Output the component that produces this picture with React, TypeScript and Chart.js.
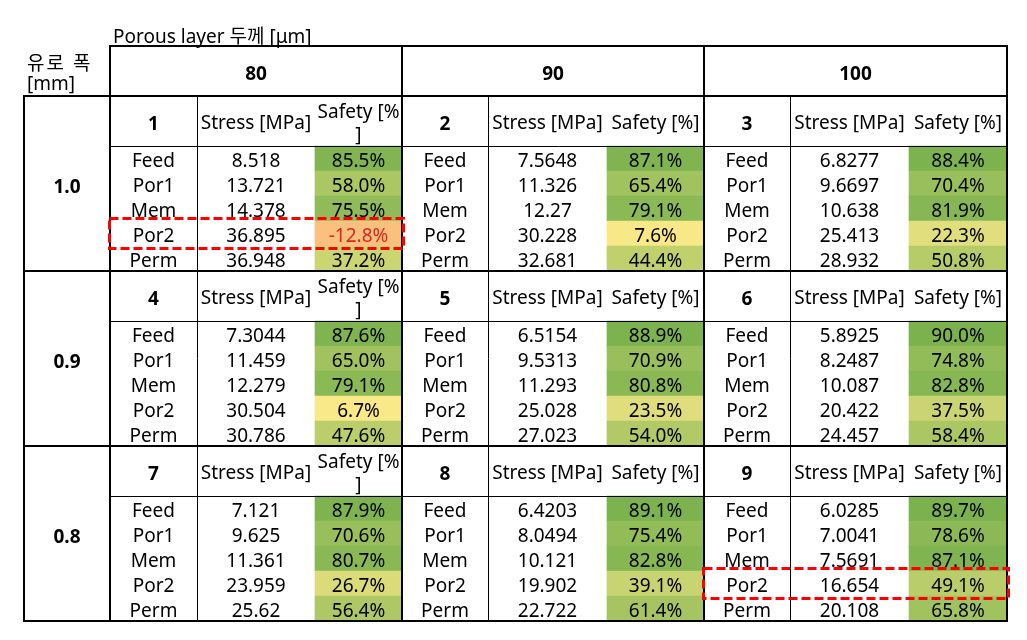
import React, { useEffect, useRef } from 'react';
import { Chart, registerables } from 'chart.js';

Chart.register(...registerables);

// ---------- data ----------
const titleText = 'Porous layer 두께 [μm]';
const rowHeaderLines = ['유로 폭', '[mm]'];
const thicknessLabels = ['80', '90', '100'];
const widthLabels = ['1.0', '0.9', '0.8'];
const locationLabels = ['Feed', 'Por1', 'Mem', 'Por2', 'Perm'];
const stressHeader = 'Stress [MPa]';
const safetyHeader = 'Safety [%]';

const stressCase1 = [8.518, 13.721, 14.378, 36.895, 36.948];
const stressCase2 = [7.5648, 11.326, 12.27, 30.228, 32.681];
const stressCase3 = [6.8277, 9.6697, 10.638, 25.413, 28.932];
const stressCase4 = [7.3044, 11.459, 12.279, 30.504, 30.786];
const stressCase5 = [6.5154, 9.5313, 11.293, 25.028, 27.023];
const stressCase6 = [5.8925, 8.2487, 10.087, 20.422, 24.457];
const stressCase7 = [7.121, 9.625, 11.361, 23.959, 25.62];
const stressCase8 = [6.4203, 8.0494, 10.121, 19.902, 22.722];
const stressCase9 = [6.0285, 7.0041, 7.5691, 16.654, 20.108];

const safetyCase1 = [85.5, 58.0, 75.5, -12.8, 37.2];
const safetyCase2 = [87.1, 65.4, 79.1, 7.6, 44.4];
const safetyCase3 = [88.4, 70.4, 81.9, 22.3, 50.8];
const safetyCase4 = [87.6, 65.0, 79.1, 6.7, 47.6];
const safetyCase5 = [88.9, 70.9, 80.8, 23.5, 54.0];
const safetyCase6 = [90.0, 74.8, 82.8, 37.5, 58.4];
const safetyCase7 = [87.9, 70.6, 80.7, 26.7, 56.4];
const safetyCase8 = [89.1, 75.4, 82.8, 39.1, 61.4];
const safetyCase9 = [89.7, 78.6, 87.1, 49.1, 65.8];

const stressByCase = [stressCase1, stressCase2, stressCase3, stressCase4, stressCase5, stressCase6, stressCase7, stressCase8, stressCase9];
const safetyByCase = [safetyCase1, safetyCase2, safetyCase3, safetyCase4, safetyCase5, safetyCase6, safetyCase7, safetyCase8, safetyCase9];

const highlightCases = [1, 9];
const highlightLocation = 'Por2';

// ---------- layout / style ----------
const COL_WIDTHS = [86, 87, 118, 87, 86, 119, 97, 86, 119, 98];
const EDGES = COL_WIDTHS.reduce((acc: number[], w) => { acc.push(acc[acc.length - 1] + w); return acc; }, [0]);
const TOTAL_W = EDGES[EDGES.length - 1];
const SLOTS = 23; // header 2 + 3 blocks * (2 sub-header + 5 data)
const FONT_FAMILY = '"Noto Sans", "Noto Sans CJK KR", sans-serif';
const FONT = `19px ${FONT_FAMILY}`;
const FONT_BOLD = `bold 19px ${FONT_FAMILY}`;
const COLOR_STOPS: [number, number[]][] = [
  [-12.8, [251, 191, 126]],
  [6, [250, 233, 136]],
  [90, [123, 178, 78]],
];

function safetyColor(v: number): string {
  let a = COLOR_STOPS[0], b = COLOR_STOPS[1];
  if (v >= COLOR_STOPS[1][0]) { a = COLOR_STOPS[1]; b = COLOR_STOPS[2]; }
  let t = (v - a[0]) / (b[0] - a[0]);
  t = Math.max(0, Math.min(1, t));
  const c = a[1].map((ch, i) => Math.round(ch + (b[1][i] - ch) * t));
  return `rgb(${c[0]},${c[1]},${c[2]})`;
}

const blockStart = (b: number) => 2 + 7 * b;

// safety cells as floating bars
const cellData: { x: number[]; y: number }[] = [];
const cellColors: string[] = [];
safetyByCase.forEach((vals, ci) => {
  const b = Math.floor(ci / 3);
  const g = ci % 3;
  vals.forEach((v, r) => {
    cellData.push({ x: [EDGES[3 + 3 * g], EDGES[4 + 3 * g]], y: blockStart(b) + 2 + r + 0.5 });
    cellColors.push(safetyColor(v));
  });
});

const tablePlugin = {
  id: 'tablePlugin',
  afterDatasetsDraw(chart: any) {
    const { ctx } = chart;
    const xs = chart.scales.x;
    const ys = chart.scales.y;
    const X = (v: number) => xs.getPixelForValue(v);
    const Y = (v: number) => ys.getPixelForValue(v);
    const colL = (c: number) => X(EDGES[c]);
    const colR = (c: number) => X(EDGES[c + 1]);
    const colC = (c: number) => (colL(c) + colR(c)) / 2;

    ctx.save();
    ctx.fillStyle = '#000';

    // title and row header
    ctx.font = FONT;
    ctx.textAlign = 'left';
    ctx.textBaseline = 'alphabetic';
    ctx.fillText(titleText, colL(1) + 3, Y(0) - 3);
    (ctx as any).letterSpacing = '2px';
    ctx.fillText(rowHeaderLines[0], colL(0) + 3, Y(0) + 24);
    (ctx as any).letterSpacing = '0px';
    ctx.fillText(rowHeaderLines[1], colL(0) + 3, Y(0) + 44);

    ctx.textAlign = 'center';
    // thickness header
    ctx.font = FONT_BOLD;
    thicknessLabels.forEach((t, g) => {
      const cx = (colL(1 + 3 * g) + colR(3 + 3 * g)) / 2;
      ctx.fillText(t, cx, Y(1) + 9);
    });

    widthLabels.forEach((wl, b) => {
      const s0 = blockStart(b);
      ctx.font = FONT_BOLD;
      ctx.fillStyle = '#000';
      ctx.fillText(wl, colC(0), (Y(s0) + Y(s0 + 7)) / 2 + 9);
      for (let g = 0; g < 3; g++) {
        const ci = b * 3 + g;
        const subC = Y(s0 + 1);
        ctx.font = FONT_BOLD;
        ctx.fillStyle = '#000';
        ctx.fillText(String(ci + 1), colC(1 + 3 * g), subC + 9);
        ctx.font = FONT;
        ctx.fillText(stressHeader, colC(2 + 3 * g), subC + 8);
        const sc = 3 + 3 * g;
        const avail = colR(sc) - colL(sc) - 6;
        if (ctx.measureText(safetyHeader).width > avail) {
          const cut = safetyHeader.length - 1;
          ctx.fillText(safetyHeader.slice(0, cut), colC(sc), subC + 8 - 11.5);
          ctx.fillText(safetyHeader.slice(cut), colC(sc), subC + 8 + 11.5);
        } else {
          ctx.fillText(safetyHeader, colC(sc), subC + 8);
        }
        locationLabels.forEach((loc, r) => {
          const yc = Y(s0 + 2 + r + 0.5) + 8;
          ctx.fillStyle = '#000';
          ctx.fillText(loc, colC(1 + 3 * g), yc);
          ctx.fillText(String(stressByCase[ci][r]), colC(2 + 3 * g), yc);
          const sv = safetyByCase[ci][r];
          ctx.fillStyle = sv < 0 ? '#D42A20' : '#000';
          ctx.fillText(sv.toFixed(1) + '%', colC(sc), yc);
        });
      }
    });

    // grid lines
    ctx.strokeStyle = '#000';
    const line = (x1: number, y1: number, x2: number, y2: number) => {
      ctx.beginPath();
      ctx.moveTo(x1, y1);
      ctx.lineTo(x2, y2);
      ctx.stroke();
    };
    // thin
    ctx.lineWidth = 1;
    ctx.lineCap = 'butt';
    for (let b = 0; b < 3; b++) {
      const yy = Math.round(Y(blockStart(b) + 2)) + 0.5;
      line(colL(1), yy, colR(9), yy);
    }
    [2, 5, 8].forEach((c) => {
      const xx = Math.round(colL(c)) + 0.5;
      line(xx, Y(2), xx, Y(SLOTS));
    });
    // thick
    ctx.lineWidth = 2;
    ctx.lineCap = 'square';
    line(colL(1), Y(0), colR(9), Y(0));
    [2, 9, 16, 23].forEach((s) => line(colL(0), Y(s), colR(9), Y(s)));
    line(colL(0), Y(2), colL(0), Y(SLOTS));
    [colL(1), colL(4), colL(7), colR(9)].forEach((xx) => line(xx, Y(0), xx, Y(SLOTS)));

    // highlight boxes
    ctx.strokeStyle = '#FF0000';
    ctx.lineWidth = 3;
    ctx.lineCap = 'butt';
    ctx.setLineDash([9, 4]);
    const r = locationLabels.indexOf(highlightLocation);
    highlightCases.forEach((cn) => {
      const b = Math.floor((cn - 1) / 3);
      const g = (cn - 1) % 3;
      const top = Y(blockStart(b) + 2 + r) - 2.5;
      const bottom = Y(blockStart(b) + 3 + r) + 2.5;
      const left = colL(1 + 3 * g) - 0.5;
      const right = colR(3 + 3 * g) + 1.5;
      ctx.strokeRect(left, top, right - left, bottom - top);
    });
    ctx.restore();
  },
};

export default function App() {
  const ref = useRef<HTMLCanvasElement | null>(null);
  useEffect(() => {
    if (!ref.current) return;
    const chart = new Chart(ref.current, {
      type: 'bar',
      data: {
        datasets: [
          {
            data: cellData as any,
            backgroundColor: cellColors,
            borderWidth: 0,
            barPercentage: 1,
            categoryPercentage: 1,
          },
        ],
      },
      options: {
        indexAxis: 'y',
        responsive: false,
        animation: false,
        devicePixelRatio: 1,
        events: [],
        layout: { padding: { left: 24, right: 20, top: 46, bottom: 19 } },
        plugins: { legend: { display: false }, tooltip: { enabled: false } },
        scales: {
          x: { type: 'linear', min: 0, max: TOTAL_W, display: false, offset: false },
          y: { type: 'linear', min: 0, max: SLOTS, reverse: true, display: false, offset: false, ticks: { stepSize: 1 } },
        },
      } as any,
      plugins: [tablePlugin],
    });
    return () => chart.destroy();
  }, []);
  return (
    <div style={{ position: 'absolute', left: 0, top: 0, width: 1027, height: 640, background: '#fff' }}>
      <canvas ref={ref} width={1027} height={640} style={{ display: 'block', width: 1027, height: 640 }} />
    </div>
  );
}
